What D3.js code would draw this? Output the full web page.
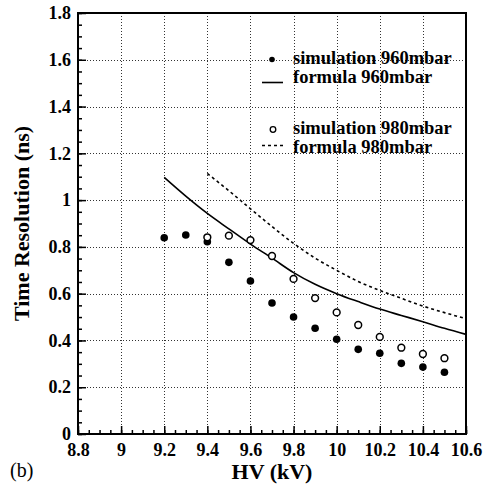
<!DOCTYPE html>
<html>
<head>
<meta charset="utf-8">
<script src="https://cdn.jsdelivr.net/npm/d3@7"></script>
<style>
  html, body { margin: 0; padding: 0; background: #fff; }
  svg { display: block; }
  text { font-family: "Liberation Serif", "Times New Roman", serif; fill: #000; }
</style>
</head>
<body>
<svg id="chart" width="484" height="492"></svg>
<script>
// ---- data ----
const hv960 = [9.2, 9.3, 9.4, 9.5, 9.6, 9.7, 9.8, 9.9, 10.0, 10.1, 10.2, 10.3, 10.4, 10.5];
const sim960 = [0.839, 0.851, 0.822, 0.734, 0.654, 0.560, 0.500, 0.452, 0.405, 0.362, 0.345, 0.302, 0.286, 0.264];
const hv980 = [9.4, 9.5, 9.6, 9.7, 9.8, 9.9, 10.0, 10.1, 10.2, 10.3, 10.4, 10.5];
const sim980 = [0.841, 0.848, 0.829, 0.761, 0.663, 0.581, 0.520, 0.466, 0.415, 0.369, 0.342, 0.324];
const hvF960 = [9.2, 9.3, 9.4, 9.5, 9.6, 9.7, 9.8, 9.9, 10.0, 10.1, 10.2, 10.3, 10.4, 10.5, 10.6];
const formula960 = [1.097, 1.017, 0.943, 0.877, 0.812, 0.752, 0.690, 0.640, 0.600, 0.566, 0.534, 0.507, 0.480, 0.452, 0.426];
const hvF980 = [9.4, 9.5, 9.6, 9.7, 9.8, 9.9, 10.0, 10.1, 10.2, 10.3, 10.4, 10.5, 10.6];
const formula980 = [1.114, 1.040, 0.963, 0.887, 0.815, 0.752, 0.700, 0.652, 0.614, 0.580, 0.547, 0.519, 0.493];
const xTicks = [8.8, 9.0, 9.2, 9.4, 9.6, 9.8, 10.0, 10.2, 10.4, 10.6];
const xTickLabels = ["8.8", "9", "9.2", "9.4", "9.6", "9.8", "10", "10.2", "10.4", "10.6"];
const yTicks = [0, 0.2, 0.4, 0.6, 0.8, 1.0, 1.2, 1.4, 1.6, 1.8];
const yTickLabels = ["0", "0.2", "0.4", "0.6", "0.8", "1", "1.2", "1.4", "1.6", "1.8"];
const legendLabels = ["simulation 960mbar", "formula 960mbar", "simulation 980mbar", "formula 980mbar"];

// ---- layout ----
const L = 78, R = 466, T = 13, B = 434;
const svg = d3.select("#chart");
const x = d3.scaleLinear().domain([8.8, 10.6]).range([L, R]);
const y = d3.scaleLinear().domain([0, 1.8]).range([B, T]);

// gridlines
const grid = svg.append("g").attr("stroke", "#333").attr("stroke-width", 1).attr("stroke-dasharray", "1,2");
grid.selectAll("line.gx").data(xTicks.slice(1, -1)).join("line")
  .attr("x1", d => Math.round(x(d)) + 0.5).attr("x2", d => Math.round(x(d)) + 0.5)
  .attr("y1", T).attr("y2", B);
grid.selectAll("line.gy").data(yTicks.slice(1, -1)).join("line")
  .attr("y1", d => Math.round(y(d)) + 0.5).attr("y2", d => Math.round(y(d)) + 0.5)
  .attr("x1", L).attr("x2", R);

// minor ticks
const minorX = d3.range(0, 37).map(i => 8.8 + i * 0.05);
const minorY = d3.range(0, 37).map(i => i * 0.05);
svg.append("g").attr("transform", `translate(0,${B})`)
  .call(d3.axisBottom(x).tickValues(minorX).tickSize(-4).tickFormat(""))
  .call(g => g.select(".domain").remove())
  .selectAll("line").attr("stroke-width", 1.5);
svg.append("g").attr("transform", `translate(${L},0)`)
  .call(d3.axisLeft(y).tickValues(minorY).tickSize(-4).tickFormat(""))
  .call(g => g.select(".domain").remove())
  .selectAll("line").attr("stroke-width", 1.5);

// major axes
const xAxis = svg.append("g").attr("transform", `translate(0,${B})`)
  .call(d3.axisBottom(x).tickValues(xTicks).tickSize(-8).tickPadding(9)
    .tickFormat((d, i) => xTickLabels[i]));
xAxis.select(".domain").remove();
xAxis.selectAll("line").attr("stroke-width", 1.5);
xAxis.selectAll("text").attr("font-size", 18).attr("font-weight", "bold")
  .attr("font-family", "Liberation Serif, serif").attr("fill", "#000");

const yAxis = svg.append("g").attr("transform", `translate(${L},0)`)
  .call(d3.axisLeft(y).tickValues(yTicks).tickSize(-8).tickPadding(7)
    .tickFormat((d, i) => yTickLabels[i]));
yAxis.select(".domain").remove();
yAxis.selectAll("line").attr("stroke-width", 1.5);
yAxis.selectAll("text").attr("font-size", 18).attr("font-weight", "bold")
  .attr("font-family", "Liberation Serif, serif").attr("fill", "#000");

// frame
svg.append("rect").attr("x", L).attr("y", T).attr("width", R - L).attr("height", B - T)
  .attr("fill", "none").attr("stroke", "#000").attr("stroke-width", 2);

// formula curves
const line = d3.line().curve(d3.curveMonotoneX).x(d => x(d[0])).y(d => y(d[1]));
svg.append("path").datum(hvF960.map((h, i) => [h, formula960[i]]))
  .attr("d", line).attr("fill", "none").attr("stroke", "#000").attr("stroke-width", 1.6);
svg.append("path").datum(hvF980.map((h, i) => [h, formula980[i]]))
  .attr("d", line).attr("fill", "none").attr("stroke", "#000").attr("stroke-width", 1.6)
  .attr("stroke-dasharray", "3,3");

// simulation points
svg.append("g").selectAll("circle").data(hv960.map((h, i) => [h, sim960[i]])).join("circle")
  .attr("cx", d => x(d[0])).attr("cy", d => y(d[1])).attr("r", 3.8).attr("fill", "#000");
svg.append("g").selectAll("circle").data(hv980.map((h, i) => [h, sim980[i]])).join("circle")
  .attr("cx", d => x(d[0])).attr("cy", d => y(d[1])).attr("r", 3.4)
  .attr("fill", "#fff").attr("stroke", "#000").attr("stroke-width", 1.5);

// legend
const lg = svg.append("g");
lg.append("circle").attr("cx", 272).attr("cy", 59.5).attr("r", 2.8).attr("fill", "#000");
lg.append("line").attr("x1", 262).attr("x2", 283).attr("y1", 82.5).attr("y2", 82.5)
  .attr("stroke", "#000").attr("stroke-width", 1.6);
lg.append("circle").attr("cx", 273).attr("cy", 129.5).attr("r", 2.8)
  .attr("fill", "#fff").attr("stroke", "#000").attr("stroke-width", 1.3);
lg.append("line").attr("x1", 262).attr("x2", 283).attr("y1", 145.5).attr("y2", 145.5)
  .attr("stroke", "#000").attr("stroke-width", 1.6).attr("stroke-dasharray", "3,3");
const lgY = [64, 83, 134, 152.5];
lg.selectAll("text").data(legendLabels).join("text")
  .attr("x", 293).attr("y", (d, i) => lgY[i])
  .attr("font-size", 18.5).attr("font-weight", "bold").text(d => d);

// axis titles
svg.append("text").attr("x", 272).attr("y", 479).attr("text-anchor", "middle")
  .attr("font-size", 22).attr("font-weight", "bold").text("HV (kV)");
svg.append("text").attr("transform", `translate(29,${(T + B) / 2}) rotate(-90)`)
  .attr("text-anchor", "middle").attr("font-size", 22).attr("font-weight", "bold")
  .text("Time Resolution (ns)");
svg.append("text").attr("x", 10).attr("y", 477).attr("font-size", 20).text("(b)");
</script>
</body>
</html>
